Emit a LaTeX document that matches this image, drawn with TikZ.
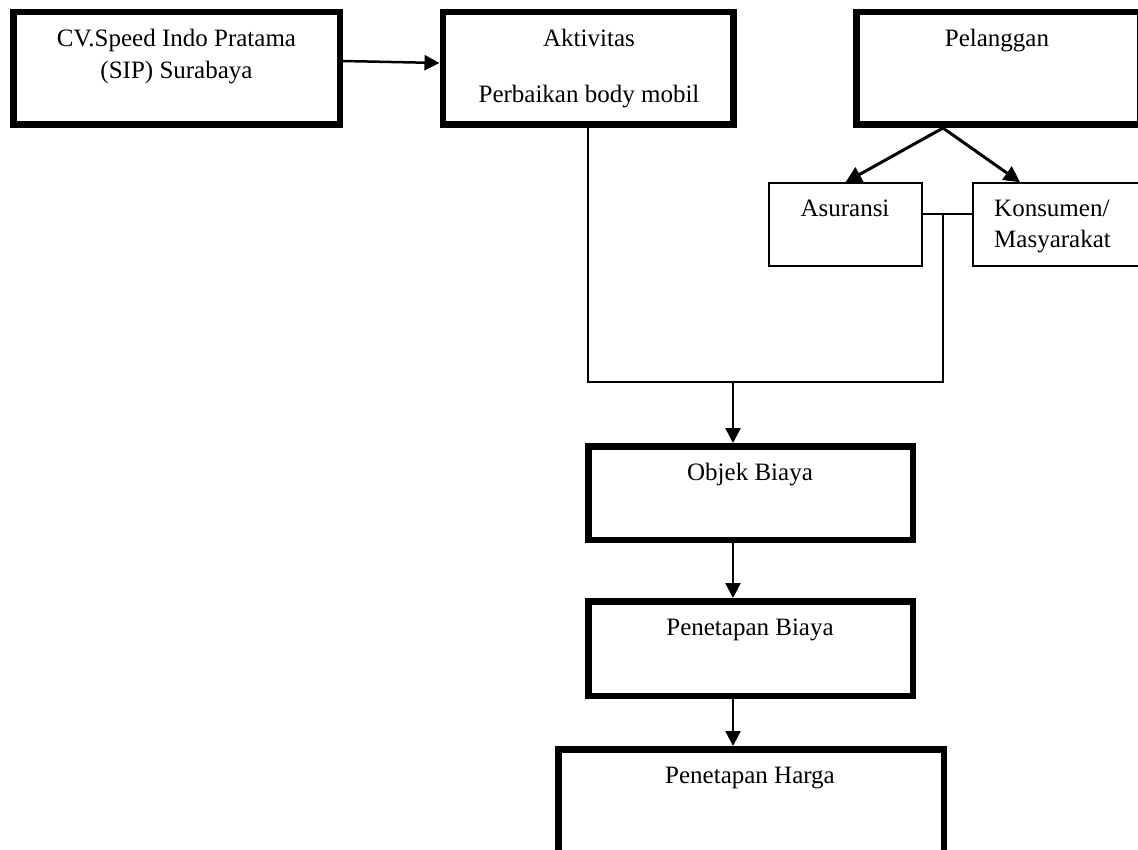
\documentclass[tikz,border=0pt]{standalone}
\usepackage{fontspec}
\setmainfont{Liberation Serif}
\usetikzlibrary{arrows.meta,calc}
\begin{document}
\begin{tikzpicture}[x=1pt,y=-1pt,
  every node/.style={font=\fontsize{25}{32}\selectfont},
  thickbox/.style={draw=black,line width=6.5pt,rectangle,inner sep=0pt,fill=none},
  thinbox/.style={draw=black,line width=1.5pt,rectangle,inner sep=0pt,fill=none},
  label/.style={anchor=base,inner sep=0pt},
  arr/.style={draw=black,line width=2.5pt,-{Triangle[length=15pt,width=15pt]}},
  arrb/.style={draw=black,line width=3pt,-{Triangle[length=16pt,width=16pt]}},
  conn/.style={draw=black,line width=1.5pt}]
\useasboundingbox (0,0) rectangle (1138,850);
\fill[white] (0,0) rectangle (1138,850);

% boxes
\node[thickbox,minimum width=326.5pt,minimum height=112.5pt] (cv) at (176.5,68.5) {};
\node[thickbox,minimum width=290.5pt,minimum height=112.5pt] (akt) at (588,68.5) {};
\node[thickbox,minimum width=283.5pt,minimum height=112.5pt] (pel) at (998,68.5) {};
\node[thinbox,minimum width=153pt,minimum height=83pt] (asu) at (845.5,224.5) {};
\node[thinbox,minimum width=172pt,minimum height=83pt] (kon) at (1059,224.5) {};
\node[thickbox,minimum width=324.5pt,minimum height=93.5pt] (obj) at (750.5,493) {};
\node[thickbox,minimum width=324.5pt,minimum height=94.5pt] (pb) at (750.5,648.5) {};
\node[thickbox,minimum width=385.5pt,minimum height=127.5pt] (ph) at (751,813) {};

% texts
\node[label] (cvt1) at (176.5,47) {CV.Speed Indo Pratama};
\node[label] (cvt2) at (176.5,78.5) {(SIP) Surabaya};
\node[label] (aktt1) at (589,47) {Aktivitas};
\node[label] (aktt2) at (589,103) {Perbaikan body mobil};
\node[label] (pelt) at (997,47) {Pelanggan};
\node[label] (asut) at (845,217) {Asuransi};
\node[label,anchor=base west] (kont1) at (994,217) {Konsumen/};
\node[label,anchor=base west] (kont2) at (994,247.5) {Masyarakat};
\node[label] (objt) at (750,480) {Objek Biaya};
\node[label] (pbt) at (750,635) {Penetapan Biaya};
\node[label] (pht) at (750,783) {Penetapan Harga};

% coordinates
\coordinate (apex) at (943,128);
\coordinate (j1) at (943,214);
\coordinate (j2) at (943,382);
\coordinate (m) at (733,382);

% connectors
\draw[arr] ([yshift=7.5pt]cv.east) -- ([yshift=5.5pt]akt.west);
\draw[arrb] (apex) -- (asu.north);
\draw[arrb] (apex) -- ([xshift=-39pt]kon.north);
\draw[conn] ([yshift=10.5pt]asu.east) -- ([yshift=10.5pt]kon.west);
\draw[conn] (akt.south) -- (akt.south |- j2) -- (j2) -- (j1);
\draw[arr] (m) -- (m |- obj.north);
\draw[arr] (m |- obj.south) -- (m |- pb.north);
\draw[arr] (m |- pb.south) -- (m |- ph.north);
\end{tikzpicture}
\end{document}
